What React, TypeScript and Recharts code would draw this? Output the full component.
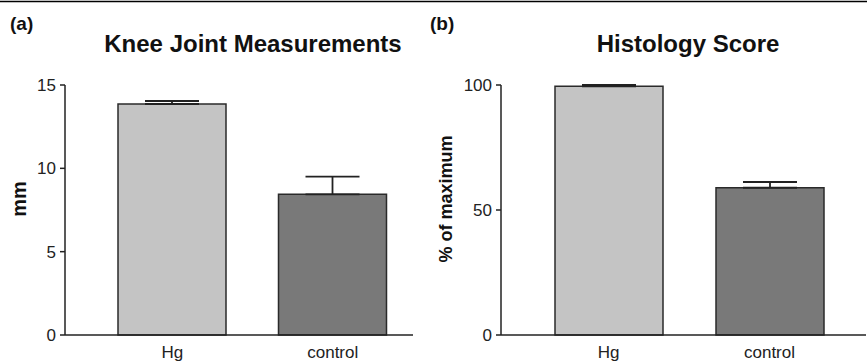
import { BarChart, Bar, XAxis, YAxis, ErrorBar, Cell } from "recharts";

const categories = ["Hg", "control"];
const kneeMeans = [13.86, 8.44];
const kneeErr = [0.18, 1.06];
const histoMeans = [99.5, 58.9];
const histoErr = [0.5, 2.3];
const kneeTicks = [0, 5, 10, 15];
const histoTicks = [0, 50, 100];

const FONT = '"Liberation Sans", Arial, Helvetica, sans-serif';
const BAR_FILLS = ["#c4c4c4", "#797979"];
const INK = "#222";

const kneeData = categories.map((name, i) => ({
  name,
  value: kneeMeans[i],
  err: [0, kneeErr[i]],
}));

const histoData = categories.map((name, i) => ({
  name,
  value: histoMeans[i],
  err: [0, histoErr[i]],
}));

const tickStyle = { fontSize: 17, fill: INK, fontFamily: FONT };

function makeYLabel(text: string, dx: number, fontSize: number) {
  return (props: any) => {
    const vb = props.viewBox || {};
    const x = vb.x + dx;
    const y = vb.y + vb.height / 2 - 11;
    return (
      <text
        x={x}
        y={y}
        transform={`rotate(-90, ${x}, ${y})`}
        textAnchor="middle"
        fontFamily={FONT}
        fontWeight="bold"
        fontSize={fontSize}
        fill="#111"
      >
        {text}
      </text>
    );
  };
}

interface PanelProps {
  data: { name: string; value: number; err: number[] }[];
  ticks: number[];
  width: number;
  yAxisWidth: number;
  rightMargin: number;
  padLeft: number;
  padRight: number;
  label: string;
  labelDx: number;
  labelSize: number;
}

function Panel(p: PanelProps) {
  const max = p.ticks[p.ticks.length - 1];
  return (
    <BarChart
      width={p.width}
      height={362}
      data={p.data}
      margin={{ top: 85, right: p.rightMargin, bottom: 0, left: 0 }}
      barSize={108}
    >
      <XAxis
        dataKey="name"
        height={27}
        tickLine={false}
        tickSize={0}
        tickMargin={11}
        padding={{ left: p.padLeft, right: p.padRight }}
        axisLine={{ stroke: INK, strokeWidth: 1.5 }}
        tick={tickStyle}
        interval={0}
      />
      <YAxis
        width={p.yAxisWidth}
        domain={[0, max]}
        ticks={p.ticks}
        interval={0}
        tickSize={5}
        tickMargin={4}
        axisLine={{ stroke: INK, strokeWidth: 1.5 }}
        tickLine={{ stroke: INK, strokeWidth: 1.5 }}
        tick={tickStyle}
        label={{ content: makeYLabel(p.label, p.labelDx, p.labelSize) }}
      />
      <Bar
        dataKey="value"
        stroke="#2a2a2a"
        strokeWidth={1.5}
        isAnimationActive={false}
      >
        {p.data.map((d, i) => (
          <Cell key={d.name} fill={BAR_FILLS[i]} />
        ))}
        <ErrorBar
          dataKey="err"
          direction="y"
          width={27}
          stroke={INK}
          strokeWidth={1.8}
          isAnimationActive={false}
        />
      </Bar>
    </BarChart>
  );
}

export default function App() {
  return (
    <div
      style={{
        position: "absolute",
        left: 0,
        top: 0,
        width: 867,
        height: 362,
        background: "#fff",
        fontFamily: FONT,
      }}
    >
      <svg
        width={867}
        height={362}
        style={{ position: "absolute", left: 0, top: 0 }}
      >
        <line x1={0} y1={1.5} x2={867} y2={1.5} stroke="#000" strokeWidth={1.5} />
        <text x={10} y={30} fontSize={19} fontWeight="bold" fill="#111" fontFamily={FONT}>
          (a)
        </text>
        <text x={430} y={30} fontSize={19} fontWeight="bold" fill="#111" fontFamily={FONT}>
          (b)
        </text>
        <text x={253} y={52} fontSize={24} fontWeight="bold" fill="#111" textAnchor="middle" fontFamily={FONT}>
          Knee Joint Measurements
        </text>
        <text x={688} y={52} fontSize={24} fontWeight="bold" fill="#111" textAnchor="middle" fontFamily={FONT}>
          Histology Score
        </text>
      </svg>
      <div style={{ position: "absolute", left: 0, top: 0 }}>
        <Panel
          data={kneeData}
          ticks={kneeTicks}
          width={430}
          yAxisWidth={65}
          rightMargin={17}
          padLeft={27}
          padRight={0}
          label="mm"
          labelDx={26}
          labelSize={20}
        />
      </div>
      <div style={{ position: "absolute", left: 430, top: 0 }}>
        <Panel
          data={histoData}
          ticks={histoTicks}
          width={437}
          yAxisWidth={71}
          rightMargin={1}
          padLeft={27}
          padRight={16}
          label="% of maximum"
          labelDx={22}
          labelSize={18}
        />
      </div>
    </div>
  );
}
